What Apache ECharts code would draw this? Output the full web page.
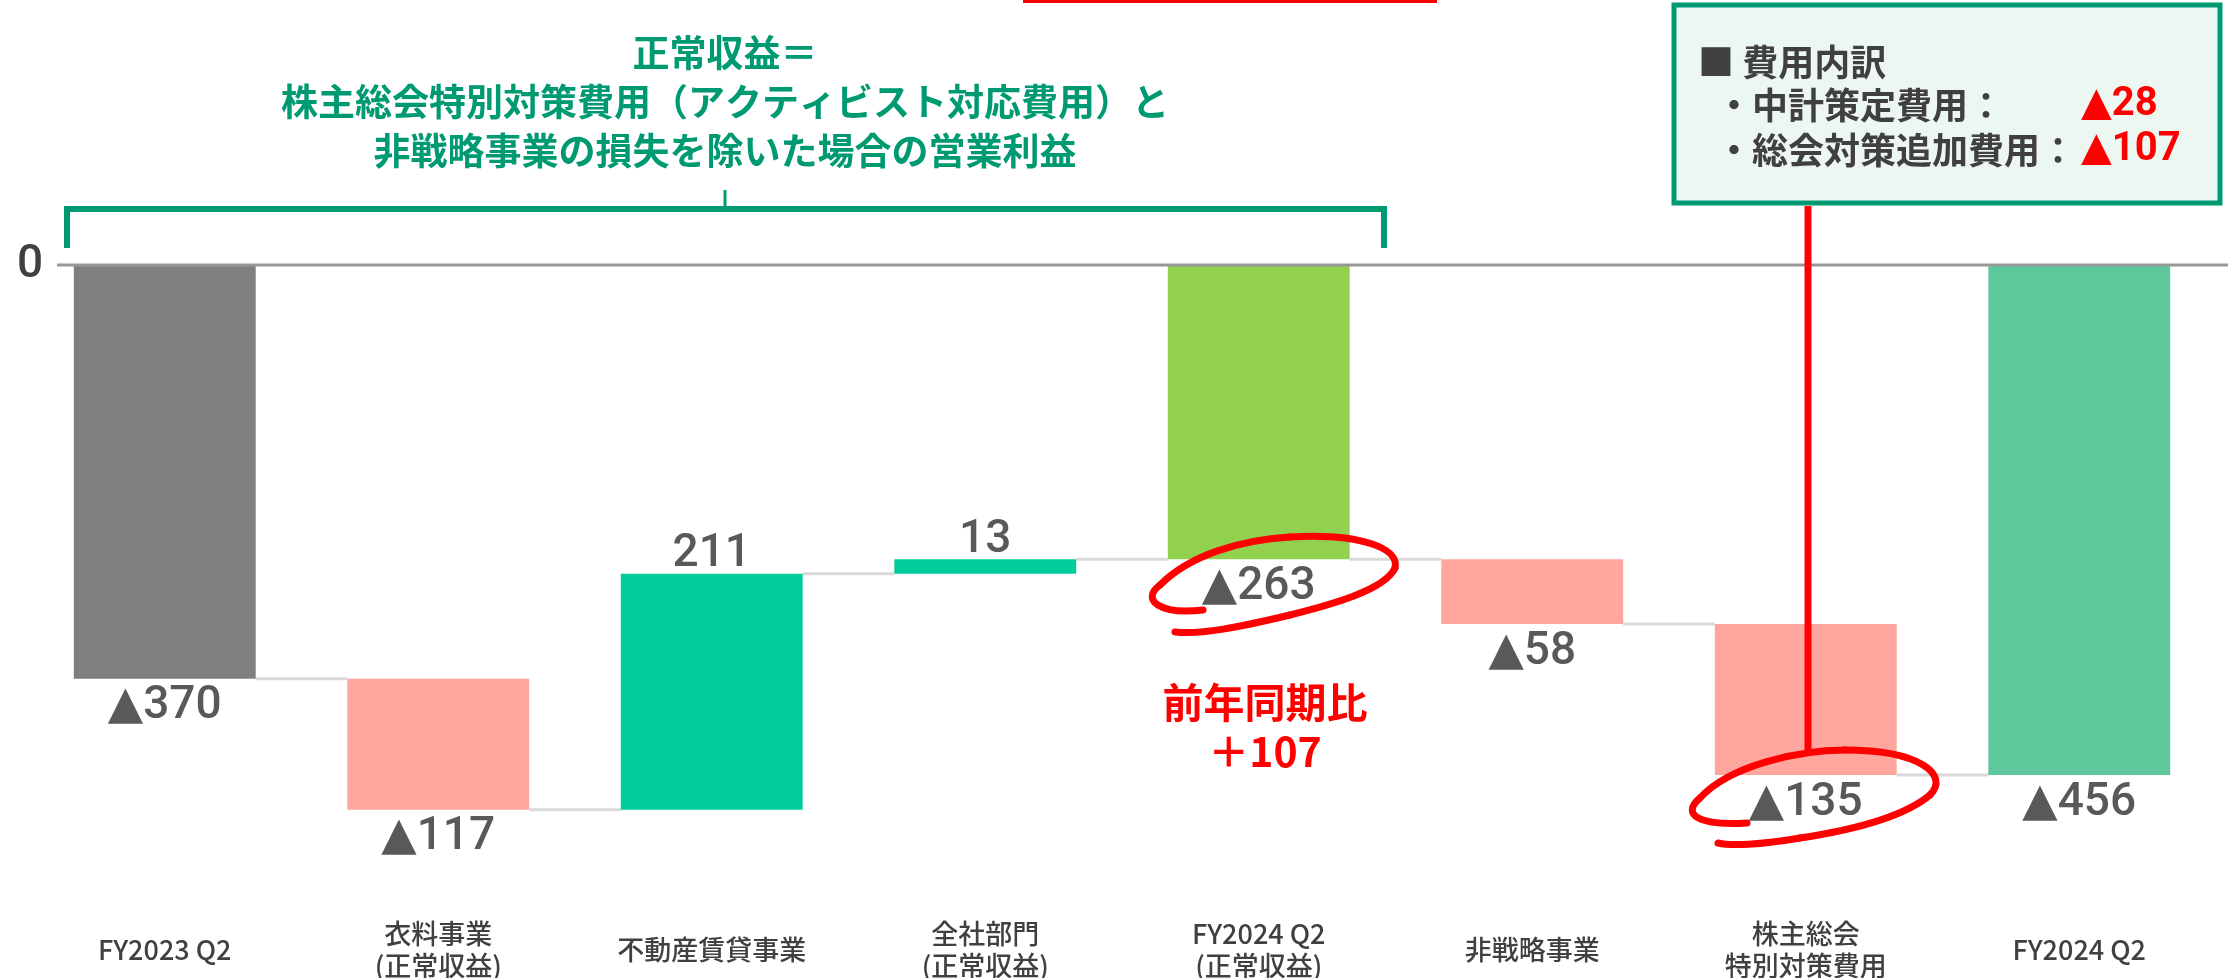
<!DOCTYPE html>
<html>
<head>
<meta charset="utf-8">
<script src="https://cdn.jsdelivr.net/npm/echarts@6/dist/echarts.min.js"></script>
<style>
  html, body { margin: 0; padding: 0; background: #fff; }
  #chart { width: 2228px; height: 978px; }
</style>
</head>
<body>
<div id="chart"></div>
<script>
// Waterfall data (営業利益の増減)
const categories = [
    'FY2023 Q2',
    '衣料事業\n(正常収益)',
    '不動産賃貸事業',
    '全社部門\n(正常収益)',
    'FY2024 Q2\n(正常収益)',
    '非戦略事業',
    '株主総会\n特別対策費用',
    'FY2024 Q2'
];
const values = [-370, -117, 211, 13, -263, -58, -135, -456];
const isTotal = [true, false, false, false, true, false, false, true];

// Cost breakdown shown in the box
const costItems = ['中計策定費用：', '総会対策追加費用：'];
const costValues = [-28, -107];
const yoyChange = 107;

const barColors = ['#7f7f7f', '#ffa69e', '#00cc99', '#00cc99', '#92d050', '#ffa69e', '#ffa69e', '#5ec89c'];
const GREEN = '#009a72';
const CJK = "'Noto Sans CJK JP', 'Noto Sans', sans-serif";
const NUM = "Roboto, 'DejaVu Sans', sans-serif";

function fmt(v) {
    return v < 0 ? '▲' + Math.abs(v) : String(v);
}

// build stacked base/delta and connector levels
const baseData = [];
const deltaData = [];
const connectors = [];
let running = 0;
values.forEach((v, i) => {
    const start = isTotal[i] ? 0 : running;
    const end = isTotal[i] ? v : running + v;
    const hi = Math.max(start, end);
    const lo = Math.min(start, end);
    baseData.push(hi);
    deltaData.push({
        value: lo - hi,
        itemStyle: { color: barColors[i] },
        label: { position: v < 0 ? 'bottom' : 'top', distance: v < 0 ? 5 : -4 }
    });
    running = end;
    if (i < values.length - 1) connectors.push([i, end]);
});

const chartDom = document.getElementById('chart');
const myChart = echarts.init(chartDom, null, { renderer: 'canvas' });

const BAR_RATIO = 0.665;

const option = {
    animation: false,
    grid: { left: 28, right: 12, top: 265, bottom: 109, outerBoundsMode: 'none' },
    xAxis: {
        type: 'category',
        data: categories,
        axisLine: { show: false },
        axisTick: { show: false },
        axisLabel: {
            margin: 81,
            verticalAlign: 'middle',
            fontFamily: CJK,
            fontSize: 27,
            fontWeight: 500,
            lineHeight: 32,
            color: '#404040',
            interval: 0
        }
    },
    yAxis: { type: 'value', min: -540, max: 0, show: false },
    series: [
        {
            type: 'custom',
            silent: true,
            z: 1,
            data: connectors,
            renderItem: function (params, api) {
                const p1 = api.coord([api.value(0), api.value(1)]);
                const p2 = api.coord([api.value(0) + 1, api.value(1)]);
                const bw = api.size([1, 0])[0] * BAR_RATIO;
                return {
                    type: 'line',
                    shape: { x1: p1[0] + bw / 2, y1: p1[1], x2: p2[0] - bw / 2, y2: p2[1] },
                    style: { stroke: '#d9d9d9', lineWidth: 3 }
                };
            }
        },
        {
            type: 'bar',
            stack: 'wf',
            silent: true,
            barWidth: (BAR_RATIO * 100) + '%',
            itemStyle: { color: 'transparent' },
            data: baseData
        },
        {
            type: 'bar',
            stack: 'wf',
            z: 3,
            barWidth: (BAR_RATIO * 100) + '%',
            label: {
                show: true,
                fontFamily: NUM,
                fontSize: 46,
                fontWeight: 500,
                color: '#595959',
                formatter: p => fmt(values[p.dataIndex])
            },
            data: deltaData
        }
    ]
};

myChart.setOption(option);

// hand-drawn style circles as bezier segments [start, cp1, cp2, end]
const loop263 = [
    [1203, 610, 1160, 615, 1140, 600, 1160, 585],
    [1160, 585, 1190, 555, 1240, 540, 1290, 537],
    [1290, 537, 1360, 533, 1400, 548, 1395, 568],
    [1395, 568, 1385, 590, 1330, 605, 1290, 615],
    [1290, 615, 1240, 627, 1200, 635, 1175, 632]
];
const loop135 = [
    [1747, 823, 1700, 826, 1680, 815, 1700, 798],
    [1700, 798, 1730, 765, 1800, 750, 1845, 750],
    [1845, 750, 1920, 750, 1950, 775, 1930, 795],
    [1930, 795, 1900, 820, 1840, 832, 1800, 838],
    [1800, 838, 1760, 845, 1730, 846, 1718, 843]
];
function curves(segs) {
    return segs.map(s => ({
        type: 'bezierCurve', z: 10,
        shape: { x1: s[0], y1: s[1], cpx1: s[2], cpy1: s[3], cpx2: s[4], cpy2: s[5], x2: s[6], y2: s[7] },
        style: { stroke: '#ff0000', lineWidth: 7, fill: null, lineCap: 'round' }
    }));
}

// annotations: drawn after the axis is laid out
const zeroY = myChart.convertToPixel({ yAxisIndex: 0 }, 0);
myChart.setOption({
    graphic: [
        // zero line and its label
        { type: 'line', shape: { x1: 57, y1: zeroY, x2: 2228, y2: zeroY }, style: { stroke: '#979797', lineWidth: 3 }, z: 5 },
        { type: 'text', x: 30, y: zeroY, style: { text: '0', font: '500 46px ' + NUM, fill: '#404040', align: 'center', verticalAlign: 'middle' } },
        // red underline cut off at top
        { type: 'rect', shape: { x: 1023, y: 0, width: 414, height: 3 }, style: { fill: '#ff0000' } },
        // bracket
        {
            type: 'polyline',
            shape: { points: [[67, 248], [67, 209], [1384, 209], [1384, 248]] },
            style: { stroke: GREEN, lineWidth: 6, fill: null }
        },
        { type: 'line', shape: { x1: 725, y1: 190, x2: 725, y2: 209 }, style: { stroke: GREEN, lineWidth: 3 } },
        {
            type: 'text', x: 725, y: 102,
            style: {
                text: '正常収益＝\n株主総会特別対策費用（アクティビスト対応費用）と\n非戦略事業の損失を除いた場合の営業利益',
                fontFamily: CJK, fontSize: 37, fontWeight: 'bold', lineHeight: 49,
                fill: GREEN, align: 'center', verticalAlign: 'middle'
            }
        },
        // cost breakdown box
        {
            type: 'rect', shape: { x: 1674, y: 5, width: 546, height: 198 },
            style: { fill: '#edf7f2', stroke: GREEN, lineWidth: 5 }
        },
        { type: 'text', x: 1698, y: 62, style: { text: '■ 費用内訳', fontFamily: CJK, fontSize: 36, fontWeight: 'bold', fill: '#404040', verticalAlign: 'middle' } },
        { type: 'text', x: 1716, y: 105, style: { text: '・' + costItems[0], fontFamily: CJK, fontSize: 36, fontWeight: 'bold', fill: '#404040', verticalAlign: 'middle' } },
        { type: 'text', x: 1716, y: 150, style: { text: '・' + costItems[1], fontFamily: CJK, fontSize: 36, fontWeight: 'bold', fill: '#404040', verticalAlign: 'middle' } },
        { type: 'text', x: 2081, y: 105, style: { text: fmt(costValues[0]), fontFamily: NUM, fontSize: 40, fontWeight: 'bold', fill: '#ff0000', verticalAlign: 'middle' } },
        { type: 'text', x: 2081, y: 150, style: { text: fmt(costValues[1]), fontFamily: NUM, fontSize: 40, fontWeight: 'bold', fill: '#ff0000', verticalAlign: 'middle' } },
        // red pointer line
        { type: 'line', shape: { x1: 1808, y1: 206, x2: 1808, y2: 752 }, style: { stroke: '#ff0000', lineWidth: 7 }, z: 10 },
        // YoY note
        {
            type: 'text', x: 1265, y: 727,
            style: {
                text: '前年同期比\n＋' + yoyChange,
                fontFamily: CJK, fontSize: 41, fontWeight: 'bold', lineHeight: 49,
                fill: '#ff0000', align: 'center', verticalAlign: 'middle'
            }
        }
    ].concat(curves(loop263), curves(loop135))
});

window.addEventListener('resize', () => myChart.resize());
</script>
</body>
</html>
